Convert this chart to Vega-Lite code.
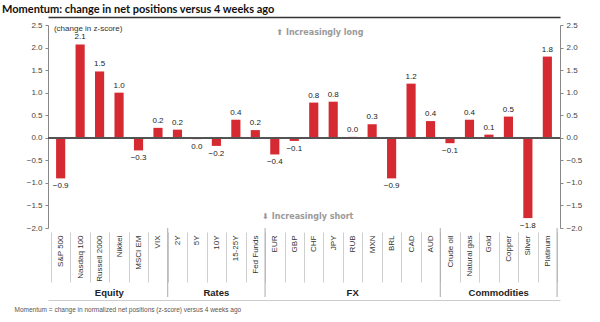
{
  "$schema": "https://vega.github.io/schema/vega-lite/v6.json",
  "width": 512,
  "height": 203,
  "autosize": "none",
  "padding": {"left": 48, "top": 25, "right": 40, "bottom": 94},
  "background": "white",
  "config": {
    "view": {"stroke": null},
    "font": "Liberation Sans",
    "axis": {"labelFont": "Liberation Sans", "titleFont": "Liberation Sans"}
  },
  "title": {
    "text": "Momentum: change in net positions versus 4 weeks ago",
    "font": "Lato",
    "fontSize": 11,
    "fontWeight": "bold",
    "color": "#111",
    "anchor": "start",
    "frame": "group",
    "dx": -46,
    "offset": 2
  },
  "datasets": {
    "bars": [
      {"cat": "S&P 500", "group": "Equity", "value": -0.9},
      {"cat": "Nasdaq 100", "group": "Equity", "value": 2.07},
      {"cat": "Russell 2000", "group": "Equity", "value": 1.47},
      {"cat": "Nikkei", "group": "Equity", "value": 1.0},
      {"cat": "MSCI EM", "group": "Equity", "value": -0.28},
      {"cat": "VIX", "group": "Equity", "value": 0.22},
      {"cat": "2Y", "group": "Rates", "value": 0.18},
      {"cat": "5Y", "group": "Rates", "value": -0.03},
      {"cat": "10Y", "group": "Rates", "value": -0.18},
      {"cat": "15-25Y", "group": "Rates", "value": 0.4},
      {"cat": "Fed Funds", "group": "Rates", "value": 0.17},
      {"cat": "EUR", "group": "FX", "value": -0.37},
      {"cat": "GBP", "group": "FX", "value": -0.07},
      {"cat": "CHF", "group": "FX", "value": 0.78},
      {"cat": "JPY", "group": "FX", "value": 0.8},
      {"cat": "RUB", "group": "FX", "value": 0.02},
      {"cat": "MXN", "group": "FX", "value": 0.3},
      {"cat": "BRL", "group": "FX", "value": -0.9},
      {"cat": "CAD", "group": "FX", "value": 1.2},
      {"cat": "AUD", "group": "FX", "value": 0.37},
      {"cat": "Crude oil", "group": "Commodities", "value": -0.12},
      {"cat": "Natural gas", "group": "Commodities", "value": 0.4},
      {"cat": "Gold", "group": "Commodities", "value": 0.07},
      {"cat": "Copper", "group": "Commodities", "value": 0.47},
      {"cat": "Silver", "group": "Commodities", "value": -1.78},
      {"cat": "Platinum", "group": "Commodities", "value": 1.8}
    ],
    "groupsEven": [
      {"cat": "Nikkei", "label": "Equity"},
      {"cat": "Copper", "label": "Commodities"}
    ],
    "groupsOdd": [
      {"cat": "10Y", "label": "Rates"},
      {"cat": "RUB", "label": "FX"}
    ],
    "seps": [
      {"cat": "2Y"},
      {"cat": "EUR"},
      {"cat": "Crude oil"}
    ],
    "sepEnd": [
      {"cat": "Platinum"}
    ],
    "notes": [
      {"cat": "CHF", "label": "⬆ Increasingly long", "y": 2.32}
    ],
    "notes2": [
      {"cat": "CHF", "label": "⬇ Increasingly short", "y": -1.76}
    ],
    "unit": [
      {"cat": "S&P 500", "label": "(change in z-score)", "y": 2.42}
    ]
  },
  "resolve": {"scale": {"x": "shared", "y": "shared"}, "axis": {"x": "independent", "y": "independent"}},
  "layer": [
    {
      "data": {"name": "bars"},
      "mark": {"type": "bar", "color": "#d62a32", "width": {"band": 0.47}},
      "encoding": {
        "x": {
          "field": "cat", "type": "nominal", "sort": null,
          "scale": {
            "domain": ["S&P 500", "Nasdaq 100", "Russell 2000", "Nikkei", "MSCI EM", "VIX", "2Y", "5Y", "10Y", "15-25Y", "Fed Funds", "EUR", "GBP", "CHF", "JPY", "RUB", "MXN", "BRL", "CAD", "AUD", "Crude oil", "Natural gas", "Gold", "Copper", "Silver", "Platinum"],
            "paddingInner": 0, "paddingOuter": 0.15
          },
          "axis": {
            "title": null, "orient": "bottom", "domain": false,
            "tickBand": "extent", "tickSize": 50, "offset": 4, "tickColor": "#cfcfcf", "tickWidth": 1,
            "labelAngle": -90, "labelPadding": -47, "labelFontSize": 8, "labelColor": "#333",
            "labelAlign": "right", "labelBaseline": "middle"
          }
        },
        "y": {
          "field": "value", "type": "quantitative",
          "scale": {"domain": [-2, 2.5], "nice": false, "zero": false},
          "axis": {
            "orient": "left", "title": null, "values": [-2, -1.5, -1, -0.5, 0, 0.5, 1, 1.5, 2, 2.5],
            "format": ".1f", "grid": false, "domainColor": "#888", "tickColor": "#888", "tickSize": 3,
            "labelFontSize": 8, "labelColor": "#444", "labelPadding": 3
          }
        }
      }
    },
    {
      "data": {"name": "bars"},
      "mark": {"type": "rule", "color": "#555", "strokeWidth": 1},
      "encoding": {"y": {"datum": 0, "axis": null}}
    },
    {
      "data": {"name": "bars"},
      "transform": [{"filter": "datum.value >= 0"}],
      "mark": {"type": "text", "baseline": "bottom", "dy": -3, "fontSize": 8, "color": "#222"},
      "encoding": {
        "x": {"field": "cat", "type": "nominal", "sort": null, "axis": null},
        "y": {
          "field": "value", "type": "quantitative",
          "axis": {
            "orient": "right", "title": null, "values": [-2, -1.5, -1, -0.5, 0, 0.5, 1, 1.5, 2, 2.5],
            "format": ".1f", "grid": false, "domainColor": "#888", "tickColor": "#888", "tickSize": 3,
            "labelFontSize": 8, "labelColor": "#444", "labelPadding": 3
          }
        },
        "text": {"field": "value", "type": "quantitative", "format": ".1f"}
      }
    },
    {
      "data": {"name": "bars"},
      "transform": [{"filter": "datum.value < 0"}],
      "mark": {"type": "text", "baseline": "top", "dy": 4, "fontSize": 8, "color": "#222"},
      "encoding": {
        "x": {"field": "cat", "type": "nominal", "sort": null, "axis": null},
        "y": {"field": "value", "type": "quantitative", "axis": null},
        "text": {"field": "value", "type": "quantitative", "format": ".1f"}
      }
    },
    {
      "data": {"name": "seps"},
      "mark": {"type": "rule", "color": "#aaa", "strokeWidth": 1},
      "encoding": {
        "x": {"field": "cat", "type": "nominal", "sort": null, "bandPosition": 0, "axis": null},
        "y": {"datum": -2.0, "axis": null},
        "y2": {"datum": -3.53}
      }
    },
    {
      "data": {"name": "sepEnd"},
      "mark": {"type": "rule", "color": "#aaa", "strokeWidth": 1},
      "encoding": {
        "x": {"field": "cat", "type": "nominal", "sort": null, "bandPosition": 1, "axis": null},
        "y": {"datum": -2.0, "axis": null},
        "y2": {"datum": -3.53}
      }
    },
    {
      "data": {"name": "groupsEven"},
      "mark": {"type": "text", "fontSize": 9.5, "fontWeight": "bold", "color": "#222", "baseline": "middle"},
      "encoding": {
        "x": {
          "field": "cat", "type": "nominal", "sort": null, "bandPosition": 0,
          "axis": {
            "orient": "bottom", "offset": 72, "domain": true, "domainColor": "#ccc", "ticks": false, "labels": false,
            "title": "Momentum = change in normalized net positions (z-score) versus 4 weeks ago",
            "titleAnchor": "start", "titleAlign": "left", "titleX": -34, "titleY": 9, "titleBaseline": "middle",
            "titleFontSize": 6.5, "titleFontWeight": "normal", "titleColor": "#555"
          }
        },
        "y": {"datum": -3.44, "axis": null},
        "text": {"field": "label"}
      }
    },
    {
      "data": {"name": "groupsOdd"},
      "mark": {"type": "text", "fontSize": 9.5, "fontWeight": "bold", "color": "#222", "baseline": "middle"},
      "encoding": {
        "x": {
          "field": "cat", "type": "nominal", "sort": null, "bandPosition": 0.5,
          "axis": {
            "orient": "top", "offset": 8, "domain": true, "domainColor": "#333", "domainWidth": 1.5,
            "ticks": false, "labels": false, "title": null
          }
        },
        "y": {"datum": -3.44, "axis": null},
        "text": {"field": "label"}
      }
    },
    {
      "data": {"name": "notes"},
      "mark": {"type": "text", "fontSize": 8, "fontWeight": "bold", "color": "#9a9a9a", "baseline": "middle", "font": "DejaVu Sans"},
      "encoding": {
        "x": {"field": "cat", "type": "nominal", "sort": null, "bandPosition": 0.82, "axis": null},
        "y": {"field": "y", "type": "quantitative", "axis": null},
        "text": {"field": "label"}
      }
    },
    {
      "data": {"name": "notes2"},
      "mark": {"type": "text", "fontSize": 8, "fontWeight": "bold", "color": "#9a9a9a", "baseline": "middle", "font": "DejaVu Sans"},
      "encoding": {
        "x": {"field": "cat", "type": "nominal", "sort": null, "bandPosition": 0.2, "axis": null},
        "y": {"field": "y", "type": "quantitative", "axis": null},
        "text": {"field": "label"}
      }
    },
    {
      "data": {"name": "unit"},
      "mark": {"type": "text", "fontSize": 8, "color": "#333", "baseline": "middle", "align": "left", "dx": 3},
      "encoding": {
        "x": {"field": "cat", "type": "nominal", "sort": null, "bandPosition": 0, "axis": null},
        "y": {"field": "y", "type": "quantitative", "axis": null},
        "text": {"field": "label"}
      }
    }
  ]
}
